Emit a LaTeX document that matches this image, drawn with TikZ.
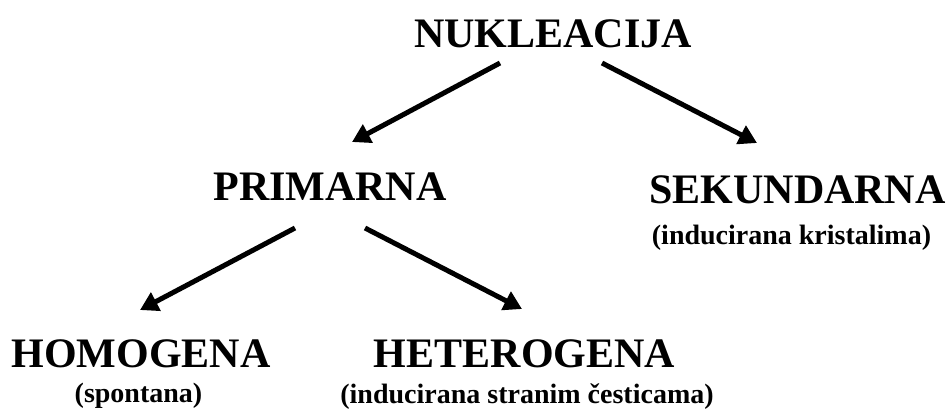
\documentclass[tikz,border=0pt]{standalone}
\usepackage{fontspec}
\setmainfont{Liberation Serif}
\usetikzlibrary{arrows.meta}
\begin{document}
\begin{tikzpicture}[x=1pt,y=-1pt,
  head/.style={font=\fontsize{42}{46}\selectfont\bfseries, inner sep=0pt, anchor=base},
  sub/.style={font=\fontsize{28}{32}\selectfont\bfseries, inner sep=0pt, anchor=base},
  arr/.style={line width=5pt, -{Triangle[length=18pt,width=20pt]}}]
\useasboundingbox (0,0) rectangle (949,410);
\node[head] (nuk) at (553,47) {NUKLEACIJA};
\node[head] (prim) at (330,200) {PRIMARNA};
\node[head] (sek) at (797.5,203) {SEKUNDARNA};
\node[sub] (seksub) at (791.5,244) {(inducirana kristalima)};
\node[head] (hom) at (141,367) {HOMOGENA};
\node[sub] (homsub) at (138.5,402) {(spontana)};
\node[head] (het) at (524.5,367) {HETEROGENA};
\node[sub] (hetsub) at (527,403) {(inducirana stranim česticama)};
\coordinate (nukL) at (500,63);
\coordinate (nukR) at (602,63);
\coordinate (primT) at (352,142);
\coordinate (sekT) at (757,143);
\coordinate (primL) at (295,228);
\coordinate (primR) at (365,228);
\coordinate (homT) at (140,310);
\coordinate (hetT) at (522,309);
\draw[arr] (nukL) -- (primT);
\draw[arr] (nukR) -- (sekT);
\draw[arr] (primL) -- (homT);
\draw[arr] (primR) -- (hetT);
\end{tikzpicture}
\end{document}
